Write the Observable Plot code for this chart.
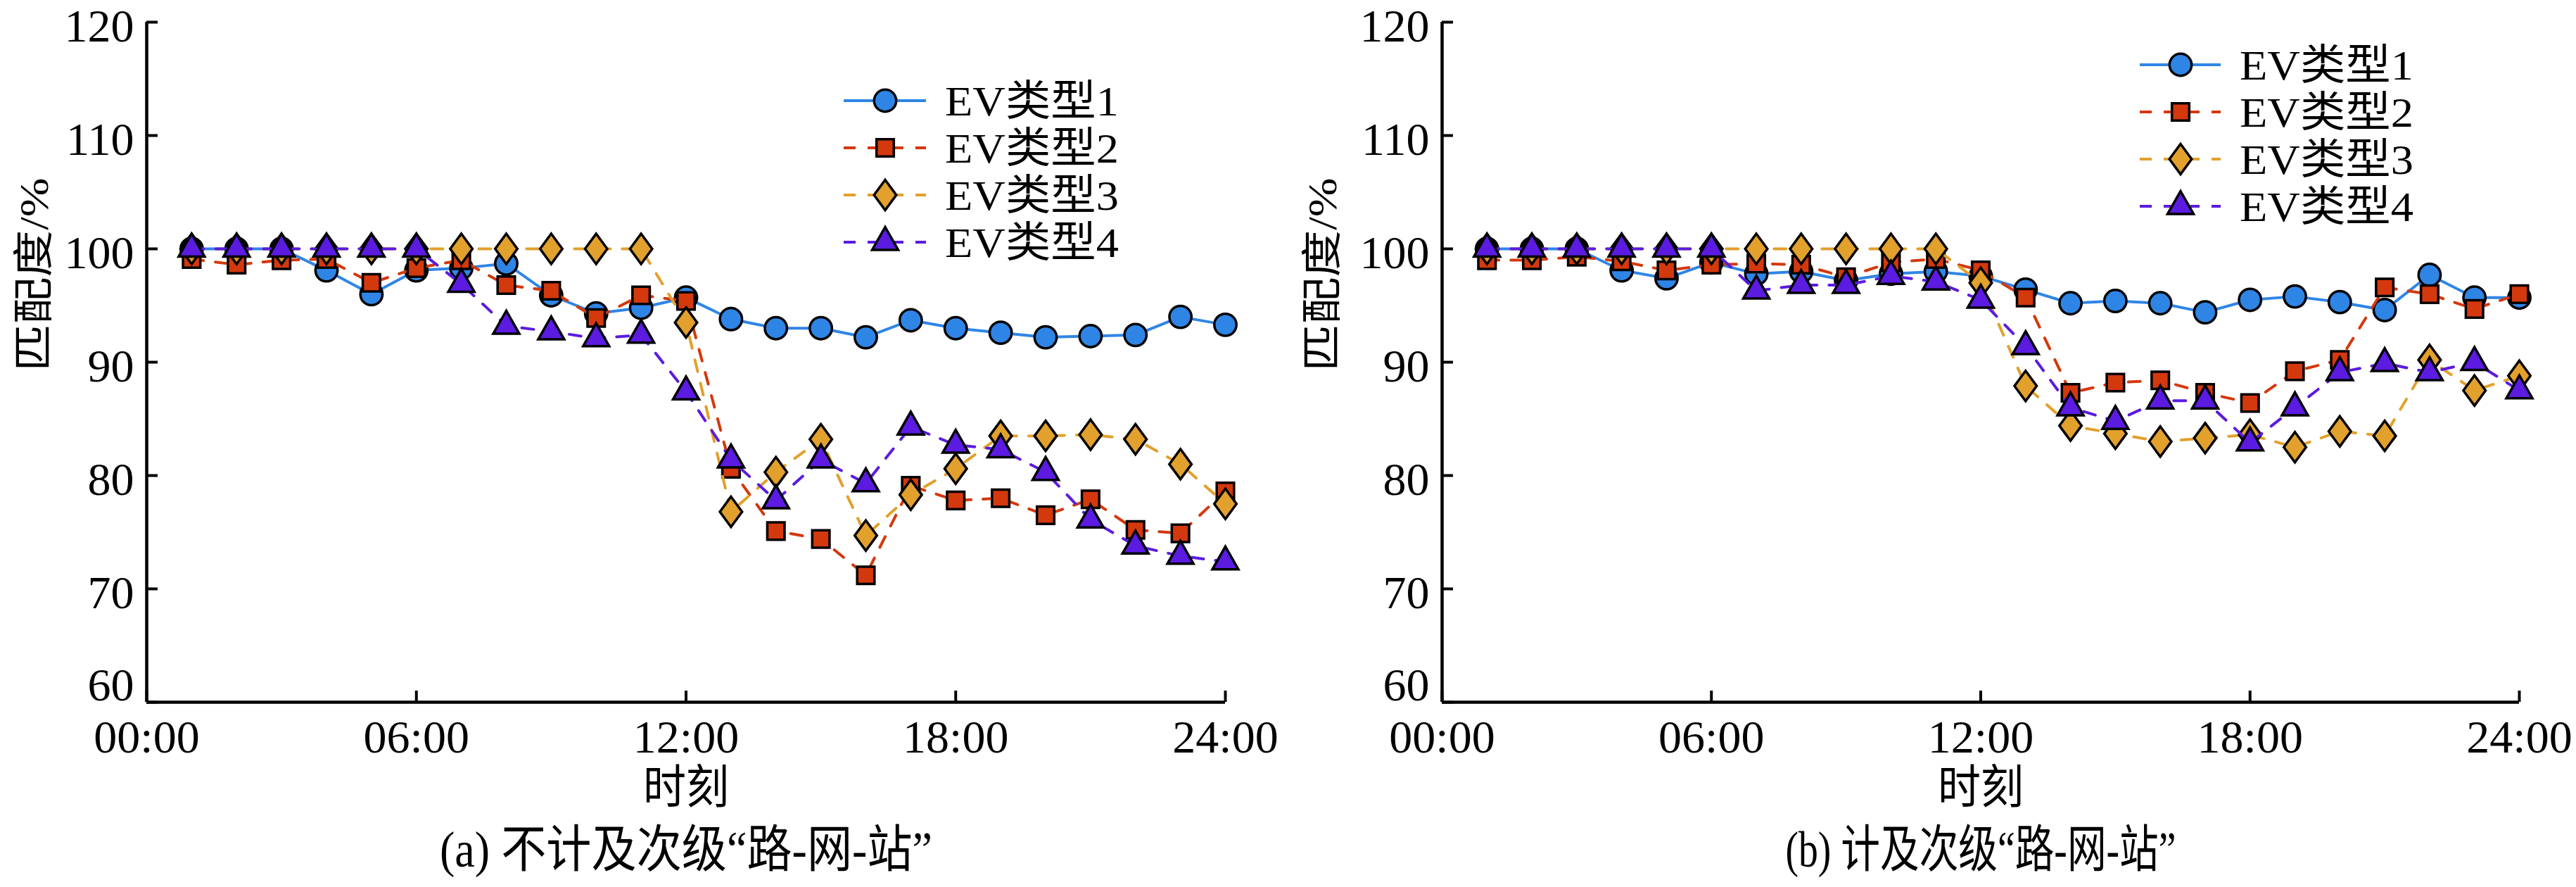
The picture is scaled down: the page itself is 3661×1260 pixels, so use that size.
<!DOCTYPE html>
<html>
<head>
<meta charset="utf-8">
<script src="https://cdn.jsdelivr.net/npm/d3@7"></script>
<script src="https://cdn.jsdelivr.net/npm/@observablehq/plot@0.6"></script>
<style>
html, body { margin: 0; padding: 0; background: #fff; }
#row { display: flex; width: 3660px; height: 1260px; }
</style>
</head>
<body>
<div id="row"></div>
<script>
// ---------- data ----------
const hours = [1,2,3,4,5,6,7,8,9,10,11,12,13,14,15,16,17,18,19,20,21,22,23,24];
const xTicks = [0, 6, 12, 18, 24];
const xTickLabels = ["00:00", "06:00", "12:00", "18:00", "24:00"];
const yTicks = [60, 70, 80, 90, 100, 110, 120];
const seriesNames = ["EV类型1", "EV类型2", "EV类型3", "EV类型4"];
const xLabel = "时刻";
const yLabel = "匹配度/%";
const captions = ["(a) 不计及次级“路-网-站”", "(b) 计及次级“路-网-站”"];

// panel (a)
const a1 = [100,100,100,98.1,96.0,98.1,98.3,98.7,95.9,94.3,94.8,95.7,93.8,93.0,93.0,92.2,93.7,93.0,92.6,92.2,92.3,92.4,94.0,93.3];
const a2 = [99.1,98.6,99.0,99.1,97.0,98.3,99.0,96.8,96.3,93.9,95.9,95.4,80.6,75.1,74.4,71.2,79.1,77.8,78.0,76.5,77.9,75.2,74.9,78.6];
const a3 = [100,100,100,100,100,100,100,100,100,100,100,93.5,76.8,80.3,83.2,74.7,78.3,80.6,83.5,83.5,83.6,83.2,81.0,77.5];
const a4 = [100,100,100,100,100,100,96.9,93.2,92.7,92.1,92.4,87.4,81.4,77.8,81.4,79.3,84.3,82.7,82.3,80.3,76.1,73.8,72.9,72.4];
// panel (b)
const b1 = [100,100,100,98.1,97.4,98.8,97.8,98.0,97.2,97.8,98.0,97.6,96.4,95.2,95.4,95.2,94.4,95.5,95.8,95.3,94.6,97.7,95.7,95.7];
const b2 = [99.0,99.0,99.3,98.9,98.1,98.6,98.7,98.6,97.5,98.8,99.1,98.1,95.7,87.3,88.2,88.4,87.3,86.4,89.2,90.2,96.6,96.0,94.7,96.0];
const b3 = [100,100,100,100,100,100,100,100,100,100,100,97.0,87.9,84.4,83.7,83.0,83.3,83.6,82.5,83.9,83.5,90.2,87.5,88.8];
const b4 = [100,100,100,100,100,100,96.3,96.8,96.8,97.6,97.1,95.5,91.4,86.0,84.8,86.6,86.6,82.9,86.0,89.1,89.9,89.1,90.0,87.5];

// ---------- styles ----------
const colors = ["#2f85e6", "#d4380d", "#e2a02c", "#5b1be0"];
const dashes = [null, "17,17", "17,17", "17,17"];
const symCircle = {draw(c) { const r = 15.7; c.moveTo(r, 0); c.arc(0, 0, r, 0, 2 * Math.PI); c.closePath(); }};
const symSquare = {draw(c) { const s = 12.3; c.moveTo(-s, -s); c.lineTo(s, -s); c.lineTo(s, s); c.lineTo(-s, s); c.closePath(); }};
const symDiamond = {draw(c) { c.moveTo(0, -21.5); c.lineTo(15.8, 0); c.lineTo(0, 21.5); c.lineTo(-15.8, 0); c.closePath(); }};
const symTriangle = {draw(c) { c.moveTo(0, -21.5); c.lineTo(18.5, 11); c.lineTo(-18.5, 11); c.closePath(); }};
const symbols = [symCircle, symSquare, symDiamond, symTriangle];
const FONT = "'Liberation Serif', 'Times New Roman', 'Noto Sans CJK SC', serif";

const panels = [
  {vals: [a1, a2, a3, a4], caption: captions[0], capLen: 700, ml: 208, mr: 89, ylabDx: -159,
   legend: {x1: 1199, x2: 1316, xm: 1258, xt: 1343, rows: [143, 210, 277, 344]}},
  {vals: [b1, b2, b3, b4], caption: captions[1], capLen: 555, ml: 219, mr: 80, ylabDx: -169,
   legend: {x1: 1211, x2: 1326, xm: 1269, xt: 1353, rows: [92, 159, 226, 293]}}
];

const row = document.getElementById("row");

function squeeze(svg, str, len) {
  d3.select(svg).selectAll("text").filter(function () { return this.textContent === str; })
    .attr("textLength", len).attr("lengthAdjust", "spacingAndGlyphs");
}

for (const p of panels) {
  const marks = [];
  marks.push(Plot.axisY({ticks: yTicks, tickSize: 16, dx: 16, text: null, label: null, strokeWidth: 4}));
  marks.push(Plot.axisX({ticks: xTicks, tickSize: 16, dy: -16, text: null, label: null, strokeWidth: 4}));
  marks.push(Plot.axisY({ticks: yTicks.filter(t => t !== 60), tickSize: 0, tickPadding: 18, dy: 6, label: null, fontSize: 66}));
  marks.push(Plot.axisY({ticks: yTicks.filter(t => t === 60), tickSize: 0, tickPadding: 18, dy: -24, label: null, fontSize: 66}));
  marks.push(Plot.axisX({ticks: xTicks, tickSize: 0, tickPadding: 25, label: null, fontSize: 66,
    tickFormat: d => xTickLabels[xTicks.indexOf(d)]}));
  marks.push(Plot.ruleX([0], {stroke: "black", strokeWidth: 4.5}));
  marks.push(Plot.ruleY([60], {stroke: "black", strokeWidth: 4.5}));
  p.vals.forEach((v, k) => {
    const d = hours.map((h, i) => ({h, v: v[i], s: seriesNames[k]}));
    marks.push(Plot.line(d, {x: "h", y: "v", stroke: colors[k], strokeWidth: 4, strokeDasharray: dashes[k]}));
    marks.push(Plot.dot(d, {x: "h", y: "v", symbol: symbols[k], fill: colors[k], stroke: "black", strokeWidth: 3.5}));
  });
  marks.push(Plot.text([xLabel], {text: d => d, frameAnchor: "bottom", dy: 143, fontSize: 66, fill: "black"}));
  marks.push(Plot.text([p.caption], {text: d => d, frameAnchor: "bottom", dy: 233, fontSize: 72, fill: "black"}));
  marks.push(Plot.text([yLabel], {text: d => d, frameAnchor: "left", dx: p.ylabDx, dy: 13, rotate: -90, fontSize: 58, fill: "black"}));

  const svg = Plot.plot({
    width: 1830, height: 1260,
    marginLeft: p.ml, marginRight: p.mr, marginTop: 31, marginBottom: 263,
    x: {domain: [0, 24]},
    y: {domain: [60, 120]},
    style: {fontFamily: FONT, background: "white", color: "black"},
    marks
  });

  squeeze(svg, xLabel, 122);
  squeeze(svg, p.caption, p.capLen);
  squeeze(svg, yLabel, 275);

  // legend
  const g = d3.select(svg).append("g").attr("class", "legend").attr("text-anchor", "start");
  const L = p.legend;
  seriesNames.forEach((name, k) => {
    const y = L.rows[k];
    g.append("line").attr("x1", L.x1).attr("x2", L.x2).attr("y1", y).attr("y2", y)
      .attr("stroke", colors[k]).attr("stroke-width", 4)
      .attr("stroke-dasharray", dashes[k]);
    const path = d3.path();
    symbols[k].draw(path);
    g.append("path").attr("d", path.toString()).attr("transform", `translate(${L.xm},${y})`)
      .attr("fill", colors[k]).attr("stroke", "black").attr("stroke-width", 3.5);
    g.append("text").attr("x", L.xt).attr("y", y + 21).attr("font-size", 60)
      .attr("textLength", 247).attr("lengthAdjust", "spacingAndGlyphs")
      .attr("fill", "black").text(name);
  });

  row.appendChild(svg);
}
</script>
</body>
</html>
